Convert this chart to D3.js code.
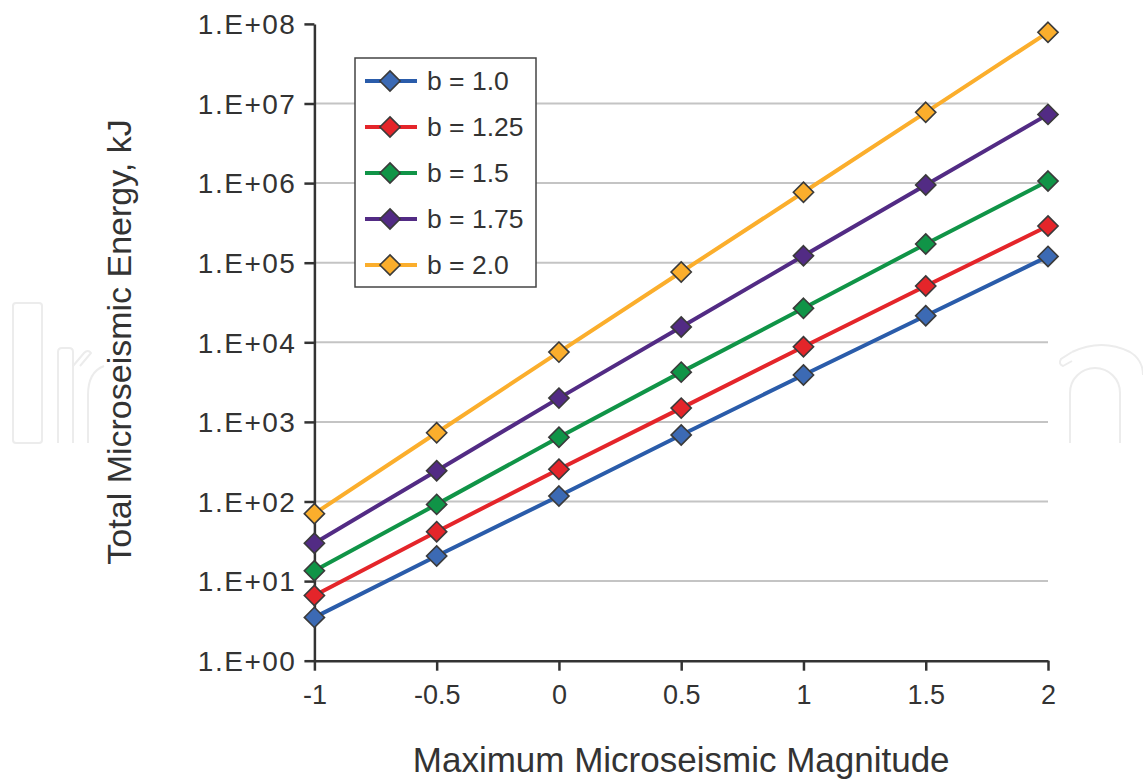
<!DOCTYPE html>
<html>
<head>
<meta charset="utf-8">
<script src="https://cdn.jsdelivr.net/npm/d3@7"></script>
<style>
  body { margin: 0; background: #fff; }
  svg { display: block; font-family: Arial, "Liberation Sans", sans-serif; }
</style>
</head>
<body>
<div id="chart"></div>
<script>
// Data
const magnitudes = [-1, -0.5, 0, 0.5, 1, 1.5, 2];
const seriesNames = ['b = 1.0', 'b = 1.25', 'b = 1.5', 'b = 1.75', 'b = 2.0'];
const energyB100 = [3.5, 20.7, 117, 686, 3880, 21600, 120000];
const energyB125 = [6.6, 41.8, 254, 1490, 8800, 51000, 289000];
const energyB150 = [13.5, 92, 642, 4220, 26700, 172000, 1060000];
const energyB175 = [29.9, 244, 1990, 15600, 122000, 946000, 7300000];
const energyB200 = [70.3, 731, 7530, 76400, 767000, 7750000, 78400000];
const yTicks = [1, 1e1, 1e2, 1e3, 1e4, 1e5, 1e6, 1e7, 1e8];
const xTicks = [-1, -0.5, 0, 0.5, 1, 1.5, 2];

const lineColors = ['#2a5caa', '#e4252a', '#109447', '#522b84', '#fbae2c'];
const markerColors = ['#3c6ab4', '#e4252a', '#109447', '#522b84', '#fbae2c'];

const series = [energyB100, energyB125, energyB150, energyB175, energyB200].map((vals, i) => ({
    name: seriesNames[i],
    line: lineColors[i],
    marker: markerColors[i],
    points: vals.map((v, j) => ({ m: magnitudes[j], e: v }))
}));

const width = 1143, height = 782;
const plot = { left: 314.4, right: 1048, top: 23.9, bottom: 660.7 };
const textColor = '#333';

const svg = d3.select('#chart').append('svg')
    .attr('width', width)
    .attr('height', height);

// faint watermark behind the chart
const wm = svg.append('g')
    .attr('fill', 'none')
    .attr('stroke', '#ececec')
    .attr('stroke-width', 2);
wm.append('rect').attr('x', 13).attr('y', 303).attr('width', 29).attr('height', 140).attr('rx', 3);
wm.append('path').attr('d', 'M58,443 L58,352 Q58,348 62,348 L69,348 Q73,348 73,352 L73,443');
wm.append('path').attr('d', 'M73,366 L84,353 Q88,349 91,353 L80,366');
wm.append('path').attr('d', 'M88,443 L88,395 Q88,372 104,366');
wm.append('path').attr('d', 'M1070,443 L1070,393 A25,25 0 0 1 1120,393 L1120,443');
wm.append('path').attr('d', 'M1072,352 Q1102,338 1130,352 Q1143,360 1143,375');
wm.append('path').attr('d', 'M1072,352 L1061,359 Q1058,364 1063,366 L1072,361');

// plot area background
svg.append('rect')
    .attr('x', plot.left).attr('y', plot.top)
    .attr('width', plot.right - plot.left).attr('height', plot.bottom - plot.top)
    .attr('fill', '#fff');

const x = d3.scaleLinear().domain([-1, 2]).range([plot.left, plot.right]);
const y = d3.scaleLog().domain([1, 1e8]).range([plot.bottom, plot.top]);

// gridlines
svg.append('g')
    .selectAll('line')
    .data(yTicks.filter(t => t > 1 && t < 1e8))
    .enter()
    .append('line')
    .attr('x1', plot.left).attr('x2', plot.right)
    .attr('y1', d => y(d)).attr('y2', d => y(d))
    .attr('stroke', '#c4c4c4')
    .attr('stroke-width', 2);

// axes
const yAxis = svg.append('g')
    .attr('transform', `translate(${plot.left},0)`)
    .call(d3.axisLeft(y)
        .tickValues(yTicks)
        .tickSize(10)
        .tickSizeOuter(0)
        .tickPadding(8)
        .tickFormat(d => '1.E+' + String(Math.round(Math.log10(d))).padStart(2, '0')));

const xAxis = svg.append('g')
    .attr('transform', `translate(0,${plot.bottom})`)
    .call(d3.axisBottom(x)
        .tickValues(xTicks)
        .tickSize(10)
        .tickSizeOuter(0)
        .tickPadding(14)
        .tickFormat(d => String(d)));

[xAxis, yAxis].forEach(ax => {
    ax.select('.domain').attr('stroke', textColor).attr('stroke-width', 2.5);
    ax.selectAll('.tick line').attr('stroke', textColor).attr('stroke-width', 2.5);
    ax.selectAll('.tick text')
        .attr('fill', textColor)
        .style('font-size', '27px');
});
yAxis.selectAll('.tick text')
    .attr('dy', '0.35em')
    .style('font-size', '28px')
    .style('letter-spacing', '1.5px');

// series lines and diamond markers
const line = d3.line()
    .x(d => x(d.m))
    .y(d => y(d.e));

const diamond = d3.symbol().type(d3.symbolDiamond2).size(260);

series.forEach(s => {
    svg.append('path')
        .datum(s.points)
        .attr('d', line)
        .attr('fill', 'none')
        .attr('stroke', s.line)
        .attr('stroke-width', 4);

    svg.append('g')
        .selectAll('path')
        .data(s.points)
        .enter()
        .append('path')
        .attr('d', diamond)
        .attr('transform', d => `translate(${x(d.m)},${y(d.e)})`)
        .attr('fill', s.marker)
        .attr('stroke', '#3a3a3a')
        .attr('stroke-width', 1.6);
});

// legend
const legend = svg.append('g').attr('transform', 'translate(355,58)');
legend.append('rect')
    .attr('width', 181)
    .attr('height', 229)
    .attr('fill', '#fff')
    .attr('stroke', '#444')
    .attr('stroke-width', 1.5);

series.forEach((s, i) => {
    const row = legend.append('g').attr('transform', `translate(0, ${23 + i * 46})`);
    row.append('line')
        .attr('x1', 10).attr('x2', 62)
        .attr('stroke', s.line)
        .attr('stroke-width', 4);
    row.append('path')
        .attr('d', diamond)
        .attr('transform', 'translate(35,0)')
        .attr('fill', s.marker)
        .attr('stroke', '#3a3a3a')
        .attr('stroke-width', 1.6);
    row.append('text')
        .attr('x', 72)
        .attr('dy', '0.35em')
        .attr('fill', textColor)
        .style('font-size', '26.5px')
        .text(s.name);
});

// axis titles
svg.append('text')
    .attr('x', (plot.left + plot.right) / 2)
    .attr('y', 772)
    .attr('text-anchor', 'middle')
    .attr('fill', textColor)
    .style('font-size', '35px')
    .text('Maximum Microseismic Magnitude');

svg.append('text')
    .attr('transform', 'translate(131,342) rotate(-90)')
    .attr('text-anchor', 'middle')
    .attr('fill', textColor)
    .style('font-size', '34px')
    .text('Total Microseismic Energy, kJ');
</script>
</body>
</html>
